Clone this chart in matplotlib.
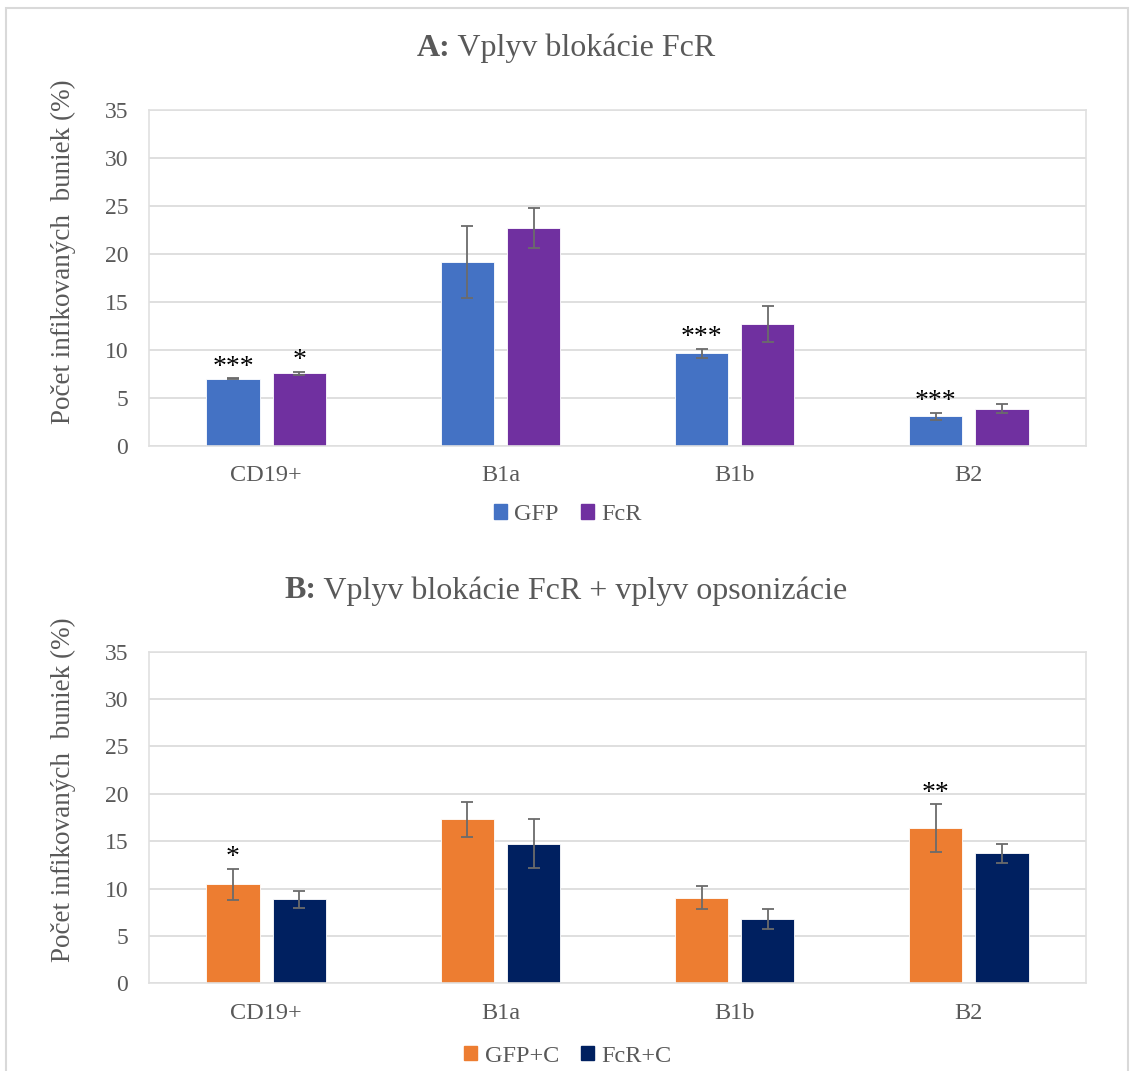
import matplotlib

matplotlib.use("Agg")
import matplotlib.pyplot as plt
import numpy as np
from matplotlib.patches import Patch, Rectangle

plt.rcParams["font.family"] = ["Liberation Serif", "DejaVu Serif"]

categories = ["CD19+", "B1a", "B1b", "B2"]

# Panel A: vplyv blokácie FcR
gfp = [7.0, 19.2, 9.65, 3.1]
gfp_err = [0.05, 3.75, 0.45, 0.35]
fcr = [7.55, 22.7, 12.7, 3.9]
fcr_err = [0.2, 2.1, 1.85, 0.5]
stars_a = [["***", "*"], ["", ""], ["***", ""], ["***", ""]]

# Panel B: vplyv blokácie FcR + vplyv opsonizácie
gfp_c = [10.45, 17.3, 9.05, 16.4]
gfp_c_err = [1.65, 1.85, 1.2, 2.5]
fcr_c = [8.85, 14.75, 6.8, 13.7]
fcr_c_err = [0.9, 2.55, 1.05, 1.0]
stars_b = [["*", ""], ["", ""], ["", ""], ["**", ""]]

W, GAP = 0.227, 0.056
TEXT = "#595959"
FIG_W, FIG_H = 1134, 1071
CX = 566 / FIG_W  # horizontal centre of the chart area


def panel(ax, s1, e1, s2, e2, c1, c2, l1, l2, stars, lab_y, leg_y):
    x = np.arange(len(categories))
    off = (W + GAP) / 2
    for xs, vals, errs, col, sl in ((x - off, s1, e1, c1, 0), (x + off, s2, e2, c2, 1)):
        ax.bar(xs, vals, W, color=col, edgecolor="white", linewidth=0.6, zorder=2)
        ax.errorbar(xs, vals, yerr=errs, fmt="none", ecolor="#6b6b6b",
                    elinewidth=1.3, capsize=4.5, capthick=1.3, zorder=3)
        for xi, v, e, st in zip(xs, vals, errs, [s[sl] for s in stars]):
            if st:
                ax.annotate(st, xy=(xi, v + e), xytext=(0, -1), textcoords="offset points",
                            ha="center", va="bottom", fontsize=20, color="black")
    ax.set_xlim(-0.5, len(categories) - 0.5)
    ax.set_ylim(0, 35)
    ax.set_yticks(range(0, 36, 5))
    ax.set_xticks(x)
    ax.set_xticklabels(categories)
    ax.tick_params(axis="x", length=0, labelsize=17.5, colors=TEXT, pad=14)
    ax.tick_params(axis="y", length=0, labelsize=17, colors=TEXT, pad=15)
    ax.grid(axis="y", color="#d9d9d9", lw=1.2, zorder=0)
    for sp in ax.spines.values():
        sp.set_color("#e0e0e0")
        sp.set_linewidth(1.2)
    ax.set_ylabel("Počet infikovaných  buniek (%)", fontsize=19.5, color=TEXT)
    ax.yaxis.set_label_coords(-0.078, lab_y)
    handles = [Patch(color=c1, label=l1), Patch(color=c2, label=l2)]
    ax.legend(handles=handles, loc="center", bbox_to_anchor=(0.447, leg_y), ncol=2,
              frameon=False, fontsize=17.5, handlelength=0.55, handleheight=0.55,
              handletextpad=0.3, columnspacing=0.9, labelcolor=TEXT)


def title(fig, bold, rest, y_px):
    y = 1 - y_px / FIG_H
    t1 = fig.text(0, y, bold, fontsize=23, fontweight="bold", color=TEXT, va="center")
    t2 = fig.text(0, y, rest, fontsize=23, color=TEXT, va="center")
    r = fig.canvas.get_renderer()
    w1 = t1.get_window_extent(r).width / FIG_W
    w2 = t2.get_window_extent(r).width / FIG_W
    x0 = CX - (w1 + w2) / 2
    t1.set_x(x0)
    t2.set_x(x0 + w1)


fig = plt.figure(figsize=(FIG_W / 100, FIG_H / 100), dpi=100)
fig.patches.append(Rectangle((0.005, -0.01), 0.99, 1.0025, transform=fig.transFigure,
                             fill=False, edgecolor="#d9d9d9", lw=1.5))

ax1 = fig.add_axes([0.1314, 0.5836, 0.8263, 0.3137])
panel(ax1, gfp, gfp_err, fcr, fcr_err, "#4472C4", "#7030A0", "GFP", "FcR",
      stars_a, 0.577, -0.205)
title(fig, "A:", " Vplyv blokácie FcR", 48)

ax2 = fig.add_axes([0.1314, 0.0819, 0.8263, 0.3096])
panel(ax2, gfp_c, gfp_c_err, fcr_c, fcr_c_err, "#ED7D31", "#002060", "GFP+C", "FcR+C",
      stars_b, 0.583, -0.22)
title(fig, "B:", " Vplyv blokácie FcR + vplyv opsonizácie", 591)

fig.savefig("out.png", dpi=100)
